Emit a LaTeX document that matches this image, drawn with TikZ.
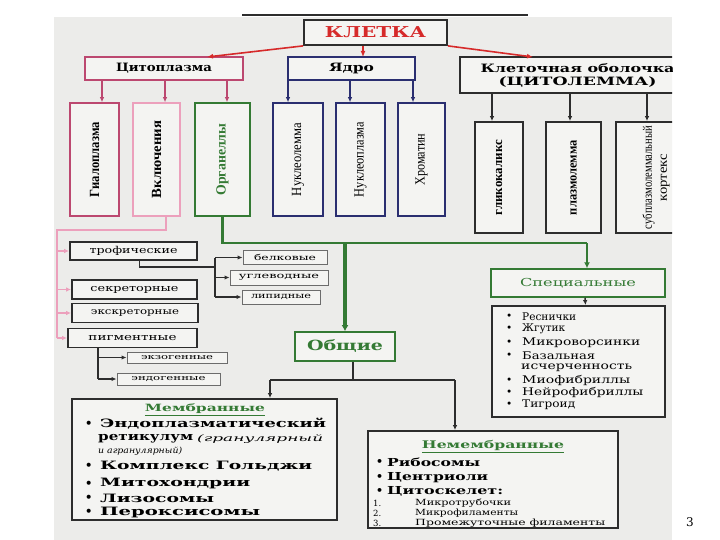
\documentclass[tikz,border=0pt]{standalone}
\usepackage{fontspec}
\setmainfont{DejaVu Serif}
\newfontfamily\tnr{Liberation Serif}
\usetikzlibrary{arrows.meta,calc}
\newcommand\fitw[2]{\resizebox{#1}{\height}{#2}}
\newcommand\vt[2]{\rotatebox{90}{\fitw{#1}{#2}}}
\definecolor{bgc}{RGB}{236,236,234}
\definecolor{pinkd}{RGB}{188,72,112}
\definecolor{pinkl}{RGB}{236,160,188}
\definecolor{navy}{RGB}{42,46,112}
\definecolor{grn}{RGB}{52,122,52}
\definecolor{redc}{RGB}{214,42,42}
\definecolor{dk}{RGB}{45,45,45}
\begin{document}
\begin{tikzpicture}[x=1pt,y=-1pt,
  bx/.style={draw=dk,line width=1.8pt,inner sep=0pt,anchor=center,fill=bgc!60!white},
  sbx/.style={draw=dk!70,line width=1pt,inner sep=0pt,anchor=center,fill=bgc!60!white},
  tx/.style={inner sep=0pt,anchor=west},
  arr/.style={-{Latex[length=5pt,width=4.5pt]}},
  redarr/.style={redc,line width=1.6pt,-{Latex[length=6pt,width=5pt]}},
  pkarr/.style={pinkd,line width=1.4pt,-{Latex[length=5pt,width=4.5pt]}},
  plarr/.style={pinkl,line width=1.2pt,-{Latex[length=5pt,width=4.5pt]}},
  nvarr/.style={navy,line width=1.5pt,-{Latex[length=5pt,width=4.5pt]}},
  dkarr/.style={dk,line width=1.5pt,-{Latex[length=5pt,width=4.5pt]}},
  ln/.style={dk,line width=1.2pt}]
\useasboundingbox (0,0) rectangle (720,540);
\fill[white] (0,0) rectangle (720,540);
\fill[bgc] (54,17) rectangle (672,540);
\coordinate (tl1) at (242,15);
\coordinate (tl2) at (528,15);
\draw[line width=1.6pt,dk] (tl1) -- (tl2);
\begin{scope}
\clip (0,0) rectangle (672,540);
% top level
\node[bx,minimum width=143pt,minimum height=25pt,text=redc,font=\bfseries\fontsize{15}{15}\selectfont] (kl) at (375.5,32.5) {\fitw{101pt}{КЛЕТКА}};
\node[bx,draw=pinkd,line width=1.5pt,minimum width=158pt,minimum height=23pt,font=\bfseries\fontsize{11.5}{12}\selectfont] (cyto) at (164,68.5) {\fitw{96pt}{Цитоплазма}};
\node[bx,draw=navy,line width=1.5pt,minimum width=127pt,minimum height=23pt,font=\bfseries\fontsize{11.5}{12}\selectfont] (yadro) at (351.5,68.5) {\fitw{45pt}{Ядро}};
\node[bx,minimum width=235pt,minimum height=36pt,align=center,font=\bfseries\fontsize{11.5}{14}\selectfont] (memb) at (577.5,75) {\fitw{194pt}{Клеточная оболочка}\\[-1pt]\fitw{158pt}{(ЦИТОЛЕММА)}};
\coordinate (ra) at (207,57);
\coordinate (rb) at (533,57);
\draw[redarr] (kl.south west) -- (ra);
\draw[redarr] (kl.south -| 363,0) -- (363,57);
\draw[redarr] (kl.south east) -- (rb);
% second row
\node[bx,draw=pinkd,line width=1.5pt,minimum width=49pt,minimum height=113pt,font=\tnr\bfseries\fontsize{14}{14}\selectfont] (hyalo) at (94.5,159.5) {\vt{75pt}{Гиалоплазма}};
\node[bx,draw=pinkl,line width=1.5pt,minimum width=47pt,minimum height=113pt,font=\tnr\bfseries\fontsize{14}{14}\selectfont] (vkl) at (156.5,159.5) {\vt{77pt}{Включения}};
\node[bx,draw=grn,line width=1.6pt,minimum width=55pt,minimum height=113pt,text=grn,font=\tnr\bfseries\fontsize{14}{14}\selectfont] (org) at (222.5,159.5) {\vt{72pt}{Органеллы}};
\node[bx,draw=navy,line width=1.5pt,minimum width=50pt,minimum height=113pt,font=\tnr\fontsize{14}{14}\selectfont] (nuclem) at (298,159.5) {\vt{73pt}{Нуклеолемма}};
\node[bx,draw=navy,line width=1.5pt,minimum width=49pt,minimum height=113pt,font=\tnr\fontsize{14}{14}\selectfont] (nuclpl) at (360.5,159.5) {\vt{75pt}{Нуклеоплазма}};
\node[bx,draw=navy,line width=1.5pt,minimum width=47pt,minimum height=113pt,font=\tnr\fontsize{14}{14}\selectfont] (chrom) at (421.5,159.5) {\vt{52pt}{Хроматин}};
\node[bx,minimum width=48pt,minimum height=111pt,font=\tnr\bfseries\fontsize{13}{13}\selectfont] (glyco) at (499,177.5) {\vt{75pt}{гликокаликс}};
\node[bx,minimum width=55pt,minimum height=111pt,font=\tnr\bfseries\fontsize{13}{13}\selectfont] (plasm) at (573.5,177.5) {\vt{75pt}{плазмолемма}};
\node[bx,minimum width=80pt,minimum height=111pt,align=center,font=\tnr\fontsize{13}{17}\selectfont] (subpl) at (656,177.5) {\rotatebox{90}{\begin{tabular}{@{}c@{}}\fitw{103pt}{субплазмолеммальный}\\[-2pt]\fitw{47pt}{кортекс}\end{tabular}}};
% arrows to second row
\draw[pkarr] (cyto.south -| 102,0) -- (hyalo.north -| 102,0);
\draw[pkarr] (cyto.south -| 165,0) -- (vkl.north -| 165,0);
\draw[pkarr] (cyto.south -| 227,0) -- (org.north -| 227,0);
\draw[nvarr] (yadro.south -| 288,0) -- (nuclem.north -| 288,0);
\draw[nvarr] (yadro.south -| 350,0) -- (nuclpl.north -| 350,0);
\draw[nvarr] (yadro.south -| 413,0) -- (chrom.north -| 413,0);
\draw[dkarr] (memb.south -| 492,0) -- (glyco.north -| 492,0);
\draw[dkarr] (memb.south -| 570,0) -- (plasm.north -| 570,0);
\draw[dkarr] (memb.south -| 647,0) -- (subpl.north -| 647,0);
% inclusions list
\node[bx,minimum width=127pt,minimum height=18pt,font=\fontsize{9.5}{10}\selectfont] (trof) at (133.5,251) {\fitw{88pt}{трофические}};
\node[bx,minimum width=125pt,minimum height=19pt,font=\fontsize{9.5}{10}\selectfont] (sekr) at (134.5,289.5) {\fitw{88pt}{секреторные}};
\node[bx,minimum width=126pt,minimum height=19pt,font=\fontsize{9}{10}\selectfont] (ekskr) at (135,313) {\fitw{88pt}{экскреторные}};
\node[bx,minimum width=129pt,minimum height=19pt,font=\fontsize{9.5}{10}\selectfont] (pigm) at (132.5,338) {\fitw{88pt}{пигментные}};
\coordinate (pk1) at (166,230);
\coordinate (pk2) at (57,230);
\coordinate (pk3) at (57,338);
\draw[pinkl,line width=1.2pt] (vkl.south -| pk1) |- (pk2) -- (pk3);
\draw[plarr] (pk2 |- trof.west) -- (trof.west);
\draw[plarr] (pk2 |- sekr.west) -- (sekr.west);
\draw[plarr] (pk2 |- ekskr.west) -- (ekskr.west);
\draw[plarr] (pk3) -- (pigm.west);
% trophic subtypes
\node[sbx,minimum width=84pt,minimum height=14pt,font=\fontsize{8}{9}\selectfont] (belk) at (285,257.5) {\fitw{62pt}{белковые}};
\node[sbx,minimum width=98pt,minimum height=15pt,font=\fontsize{8}{9}\selectfont] (uglev) at (279,277.5) {\fitw{80pt}{углеводные}};
\node[sbx,minimum width=78pt,minimum height=14pt,font=\fontsize{8}{9}\selectfont] (lipid) at (281,297) {\fitw{60pt}{липидные}};
\coordinate (tj) at (215,267);
\coordinate (tv1) at (215,257.5);
\coordinate (tv2) at (215,297);
\draw[ln] ($(trof.south)+(6,0)$) |- (tj);
\draw[ln] (tv1) -- (tv2);
\draw[ln,arr] (tv1) -- (belk.west);
\draw[ln,arr] (tv1 |- uglev.west) -- (uglev.west);
\draw[ln,arr] (tv2) -- (lipid.west);
% pigment subtypes
\node[sbx,minimum width=100pt,minimum height=11pt,font=\fontsize{7.5}{8}\selectfont] (ekzo) at (177,357.5) {\fitw{72pt}{экзогенные}};
\node[sbx,minimum width=103pt,minimum height=12pt,font=\fontsize{7.5}{8}\selectfont] (endo) at (168.5,379) {\fitw{74pt}{эндогенные}};
\coordinate (pv) at (98,379);
\draw[ln] (pigm.south -| pv) -- (pv);
\draw[ln,arr] (pv |- ekzo.west) -- (ekzo.west);
\draw[ln,arr] (pv) -- (endo.west);
% organelles
\node[bx,draw=grn,line width=1.6pt,minimum width=100pt,minimum height=29pt,text=grn,font=\bfseries\fontsize{14}{14}\selectfont] (obsh) at (345,346.5) {\fitw{76pt}{Общие}};
\node[bx,draw=grn,line width=1.5pt,minimum width=174pt,minimum height=28pt,text=grn,font=\fontsize{11}{12}\selectfont] (spec) at (578,283) {\fitw{116pt}{Специальные}};
\coordinate (gr) at (587,243);
\draw[grn,line width=2.6pt] (org.south) |- (gr);
\draw[grn,line width=3.4pt,-{Latex[length=6pt,width=7pt]}] (obsh.north |- gr) -- (obsh.north);
\draw[grn,line width=2.4pt,-{Latex[length=6pt,width=6pt]}] (gr) -- (gr |- spec.north);
\node[bx,minimum width=173pt,minimum height=111pt] (speclist) at (578.5,361.5) {};
\draw[dkarr] ($(spec.south)+(7,0)$) -- ($(speclist.north)+(7,0)$);
\begin{scope}[every node/.style={tx,font=\fontsize{10.5}{11}\selectfont}]
\node (sb1) at (506,317) {•}; \node (s1) at (522,317) {\fitw{54pt}{Реснички}};
\node (sb2) at (506,329) {•}; \node (s2) at (522,329) {\fitw{43pt}{Жгутик}};
\node (sb3) at (506,342.5) {•}; \node (s3) at (522,342.5) {\fitw{118pt}{Микроворсинки}};
\node (sb4) at (506,355.5) {•}; \node (s4) at (522,355.5) {\fitw{73pt}{Базальная}};
\node (s5) at (521,367.5) {\fitw{111pt}{исчерченность}};
\node (sb6) at (506,380.5) {•}; \node (s6) at (522,380.5) {\fitw{108pt}{Миофибриллы}};
\node (sb7) at (506,393) {•}; \node (s7) at (522,393) {\fitw{121pt}{Нейрофибриллы}};
\node (sb8) at (506,405) {•}; \node (s8) at (522,405) {\fitw{53pt}{Тигроид}};
\end{scope}
% general organelles
\node[bx,minimum width=265pt,minimum height=121pt] (membr) at (204.5,459.5) {};
\node[bx,minimum width=250pt,minimum height=97pt] (nonm) at (493,479.5) {};
\coordinate (oj) at (353,380);
\coordinate (ol) at (270,380);
\coordinate (or) at (455,380);
\draw[ln,line width=1.5pt] ($(obsh.south)+(8,0)$) -- (oj);
\draw[ln,line width=1.5pt] (ol) -- (or);
\draw[dkarr] (ol) -- (ol |- membr.north);
\draw[dkarr] (or) -- (or |- nonm.north);
\node[inner sep=0pt,text=grn,font=\bfseries\fontsize{10}{10}\selectfont] (mt) at (205,409.5) {\underline{\fitw{120pt}{Мембранные}}};
\begin{scope}[every node/.style={tx,font=\bfseries\fontsize{11.5}{12}\selectfont}]
\node (mb1) at (85,424) {•}; \node (m1) at (100,424) {\fitw{226pt}{Эндоплазматический}};
\node (m2) at (98,438.5) {\fitw{95pt}{ретикулум}};
\node[font=\itshape\fontsize{9}{10}\selectfont] (m2b) at (197,439) {\fitw{126pt}{(гранулярный}};
\node[font=\itshape\fontsize{8.5}{10}\selectfont] (m3) at (98,451.5) {\fitw{84pt}{и агранулярный)}};
\node (mb4) at (85,466.5) {•}; \node (m4) at (100,466.5) {\fitw{212pt}{Комплекс Гольджи}};
\node (mb5) at (85,484) {•}; \node (m5) at (100,484) {\fitw{150pt}{Митохондрии}};
\node (mb6) at (85,498) {•}; \node (m6) at (100,498) {\fitw{114pt}{Лизосомы}};
\node (mb7) at (85,512) {•}; \node (m7) at (100,512) {\fitw{160pt}{Пероксисомы}};
\end{scope}
\node[inner sep=0pt,text=grn,font=\bfseries\fontsize{10.5}{10}\selectfont] (nt) at (493,446.5) {\underline{\fitw{142pt}{Немембранные}}};
\begin{scope}[every node/.style={tx,font=\bfseries\fontsize{11}{12}\selectfont}]
\node (nb1) at (376,462) {•}; \node (n1) at (387,462) {\fitw{93pt}{Рибосомы}};
\node (nb2) at (376,477.5) {•}; \node (n2) at (387,477.5) {\fitw{101pt}{Центриоли}};
\node (nb3) at (376,491) {•}; \node (n3) at (387,491) {\fitw{116pt}{Цитоскелет:}};
\end{scope}
\begin{scope}[every node/.style={tx,font=\fontsize{8.5}{10}\selectfont}]
\node (nn1) at (373,503) {1.}; \node (n4) at (415,503) {\fitw{96pt}{Микротрубочки}};
\node (nn2) at (373,513) {2.}; \node (n5) at (415,513) {\fitw{103pt}{Микрофиламенты}};
\node (nn3) at (373,523) {3.}; \node (n6) at (415,523) {\fitw{190pt}{Промежуточные филаменты}};
\end{scope}
\end{scope}
\node[inner sep=0pt,font=\fontsize{12}{12}\selectfont] (pg) at (690,522) {3};
\end{tikzpicture}
\end{document}
